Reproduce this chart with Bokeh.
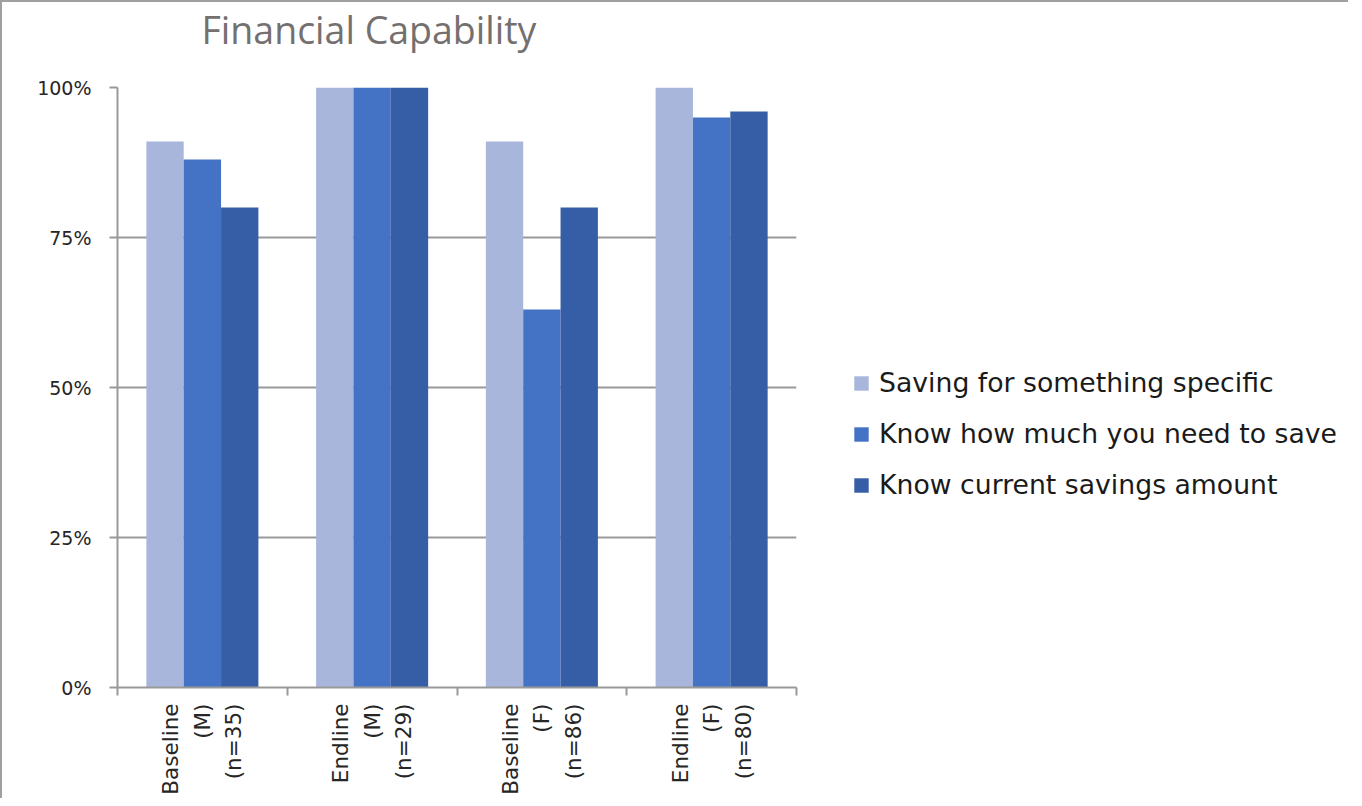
import math
from bokeh.plotting import figure
from bokeh.layouts import row, column
from bokeh.models import (Range1d, FixedTicker, PrintfTickFormatter, Legend, LegendItem,
                          ColumnDataSource, Label)
from bokeh.embed import file_html
from bokeh.resources import INLINE

title = "Financial Capability"
categories = ["Baseline\n(M)\n(n=35)", "Endline\n(M)\n(n=29)", "Baseline\n(F)\n(n=86)", "Endline\n(F)\n(n=80)"]
series = ["Saving for something specific", "Know how much you need to save", "Know current savings amount"]
saving_specific = [91, 100, 91, 100]
know_need = [88, 100, 63, 95]
know_current = [80, 100, 80, 96]
y_ticks = [0, 25, 50, 75, 100]
colors = ["#A9B6DB", "#4472C4", "#365EA6"]

values = [saving_specific, know_need, know_current]
offsets = [-0.22, 0.0, 0.22]
bar_width = 0.22
GRAY = "#999999"

TITLE_H = 60
TOTAL_H = 796
CHART_W = 796

# title strip
tf = figure(width=CHART_W, height=TITLE_H, output_backend="svg", toolbar_location=None,
            x_range=Range1d(0, 1), y_range=Range1d(0, 1),
            min_border_left=0, min_border_right=0, min_border_top=0, min_border_bottom=0)
tf.axis.visible = False
tf.grid.visible = False
tf.outline_line_color = None
tf.border_fill_color = "white"
tf.add_layout(Label(x=84, y=33, x_units="screen", y_units="screen", text=title,
                    text_font="Open Sans", text_font_size="37.5px", text_color="#757070",
                    text_baseline="alphabetic", text_align="left"))

# chart
p = figure(width=CHART_W, height=TOTAL_H - TITLE_H, output_backend="svg", toolbar_location=None,
           x_range=Range1d(0, len(categories)), y_range=Range1d(0, 100),
           min_border_left=115, min_border_right=2, min_border_top=25, min_border_bottom=111)
p.outline_line_color = None
p.background_fill_color = "white"
p.border_fill_color = "white"

centers = [i + 0.5 for i in range(len(categories))]
for vals, off, col in zip(values, offsets, colors):
    src = ColumnDataSource(dict(x=[c + off for c in centers], top=vals))
    p.vbar(x="x", top="top", width=bar_width, bottom=0, source=src,
           fill_color=col, line_color=None)

p.yaxis.ticker = FixedTicker(ticks=y_ticks)
p.yaxis.formatter = PrintfTickFormatter(format="%d%%")
p.yaxis.major_tick_out = 8
p.yaxis.major_tick_in = 0
p.yaxis.minor_tick_line_color = None
p.yaxis.axis_line_color = GRAY
p.yaxis.axis_line_width = 2
p.yaxis.major_tick_line_color = GRAY
p.yaxis.major_tick_line_width = 2
p.yaxis.major_label_text_font = "DejaVu Sans"
p.yaxis.major_label_text_font_size = "19px"
p.yaxis.major_label_text_color = "#262626"
p.yaxis.major_label_standoff = 18

p.ygrid.ticker = FixedTicker(ticks=y_ticks)
p.ygrid.grid_line_color = GRAY
p.ygrid.grid_line_width = 2
p.xgrid.grid_line_color = None

p.xaxis.ticker = FixedTicker(ticks=centers, minor_ticks=list(range(len(categories) + 1)))
p.xaxis.major_label_overrides = {c: lab for c, lab in zip(centers, categories)}
p.xaxis.major_tick_out = 0
p.xaxis.major_tick_in = 0
p.xaxis.major_tick_line_color = None
p.xaxis.minor_tick_out = 8
p.xaxis.minor_tick_in = 0
p.xaxis.minor_tick_line_color = GRAY
p.xaxis.minor_tick_line_width = 2
p.xaxis.axis_line_color = GRAY
p.xaxis.axis_line_width = 2
p.xaxis.major_label_orientation = math.pi / 2
p.xaxis.major_label_text_font = "DejaVu Sans"
p.xaxis.major_label_text_font_size = "21.5px"
p.xaxis.major_label_text_color = "#262626"
p.xaxis.major_label_text_line_height = 1.26
p.xaxis.major_label_standoff = 8

# legend panel
lg = figure(width=550, height=TOTAL_H, output_backend="svg", toolbar_location=None,
            x_range=Range1d(0, 1), y_range=Range1d(0, 1),
            min_border_left=0, min_border_right=0, min_border_top=0, min_border_bottom=0)
lg.axis.visible = False
lg.grid.visible = False
lg.outline_line_color = None
lg.background_fill_color = "white"
lg.border_fill_color = "white"
items = []
for s, col in zip(series, colors):
    r = lg.vbar(x=[0], top=[0], bottom=0, width=0.1, fill_color=col, line_color=None)
    items.append(LegendItem(label=s, renderers=[r]))
legend = Legend(items=items, location=(54, 298), orientation="vertical")
legend.label_text_font = "DejaVu Sans"
legend.label_text_font_size = "26.7px"
legend.label_text_color = "#1a1a1a"
legend.glyph_width = 18
legend.glyph_height = 18
legend.label_height = 30
legend.spacing = 20
legend.padding = 0
legend.margin = 0
legend.label_standoff = 9
legend.border_line_color = None
legend.background_fill_alpha = 0
lg.add_layout(legend, "center")

layout = row(column(tf, p), lg)
layout.styles = {"border-left": "2px solid #A0A0A0", "border-top": "2px solid #A0A0A0"}

open("out.html", "w").write(file_html(layout, INLINE))
